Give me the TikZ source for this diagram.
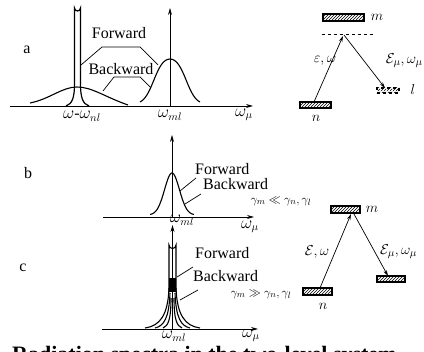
\documentclass[tikz,border=0pt]{standalone}
\usepackage{fontspec}
\setmainfont{Liberation Serif}
\usetikzlibrary{arrows.meta,patterns}
\begin{document}
\begin{tikzpicture}[x=1pt,y=-1pt,
  lbl/.style={font=\fontsize{16}{18}\selectfont, inner sep=0pt},
  sml/.style={font=\fontsize{13}{15}\selectfont, inner sep=0pt},
  enl/.style={font=\fontsize{15}{17}\selectfont, inner sep=0pt},
  axis/.style={line width=0.8pt,-{Stealth[length=7pt,width=4pt]}},
  curve/.style={line width=1.1pt},
  lead/.style={line width=0.7pt},
  lvl/.style={draw, line width=1.2pt, pattern=north east lines, inner sep=0pt, minimum height=7pt},
  tr/.style={line width=0.7pt,-{Stealth[length=6pt,width=3.5pt]}}]
\useasboundingbox (0,0) rectangle (424,352);

% ---------------- panel a ----------------
\node[lbl] (la) at (27,50) {a};
\coordinate (a0) at (10,106);
\coordinate (a1) at (253,106);
\draw[axis] (a0) -- (a1);
\coordinate (ab) at (170,106);
\coordinate (at) at (170,8);
\draw[axis] (ab) -- (at);
% broad backward curve
\draw[curve] (30,103) .. controls (50,99) and (62,87) .. (77,87) .. controls (92,87) and (105,97) .. (128,105);
% tall narrow peak
\draw[line width=1.2pt] (66,106) .. controls (72,104) and (74.5,98) .. (74.5,84) -- (74.5,8) arc (180:0:3) -- (80.5,84) .. controls (80.5,98) and (83,104) .. (89,106);
% right bell
\draw[curve] (140,102) .. controls (153,96) and (156,59) .. (170,59) .. controls (184,59) and (187,96) .. (200,102);
\node[lbl] (fa) at (119,33) {Forward};
\node[lbl] (ba) at (121,69) {Backward};
\draw[lead] (81,65) -- (102,47) -- (140,47) -- (158,65);
\draw[lead] (103,91) -- (114,77) -- (140,77) -- (151,88);
\node[lbl] (wa1) at (82,116) {$\omega$-$\omega_{nl}$};
\node[lbl] (wa2) at (170,115) {$\omega_{ml}$};
\node[lbl] (wa3) at (244,115) {$\omega_\mu$};
% levels a
\node[lvl, minimum width=41pt] (am) at (343.5,17.5) {};
\node[enl] (amt) at (377,17) {$m$};
\coordinate (av0) at (322,34);
\coordinate (av1) at (373,34);
\draw[line width=0.8pt, dashed] (av0) -- (av1);
\node[lvl, minimum width=31pt, minimum height=6pt] (an) at (315.5,105) {};
\node[enl] (ant) at (316,118) {$n$};
\node[lvl, dashed, minimum width=22pt, minimum height=5pt] (al) at (388,90.5) {};
\node[enl] (alt) at (413,90) {$l$};
\coordinate (aup0) at (314,102);
\coordinate (aup1) at (343,36);
\coordinate (adn0) at (344,35);
\coordinate (adn1) at (385,88);
\draw[tr] (aup0) -- (aup1);
\draw[tr] (adn0) -- (adn1);
\node[enl] (ae1) at (325,61) {$\varepsilon,\omega$};
\node[enl, anchor=east] (ae2) at (423,61) {$\mathcal{E}_\mu,\omega_\mu$};

% ---------------- panel b ----------------
\node[lbl] (lb) at (28,173) {b};
\coordinate (b0) at (103,217);
\coordinate (b1) at (254,217);
\draw[axis] (b0) -- (b1);
\coordinate (bb) at (172,217);
\coordinate (bt) at (172,135);
\draw[axis] (bb) -- (bt);
\draw[curve] plot[domain=150:194, samples=60, smooth] (\x, {215-42*exp(-((\x-172)/10.5)^2)});
\node[lbl, anchor=west] (fb) at (195,169) {Forward};
\node[lbl, anchor=west] (bkb) at (203,184) {Backward};
\draw[lead] (180,191) -- (196,178);
\draw[lead] (185,204) -- (201,194);
\node[lbl] (wb1) at (182,220) {$\omega_{ml}$};
\node[lbl] (wb2) at (250,227) {$\omega_\mu$};
\node[sml] (gb) at (281,201) {$\gamma_m\ll\gamma_n,\gamma_l$};

% levels c
\node[lvl, minimum width=29pt] (cm) at (345.5,209.5) {};
\node[enl] (cmt) at (372,209) {$m$};
\node[lvl, minimum width=29pt] (cn) at (317.5,291.5) {};
\node[enl] (cnt) at (323,306) {$n$};
\node[lvl, minimum width=28pt, minimum height=6pt] (cl) at (391,279) {};
\coordinate (cup0) at (320,288);
\coordinate (cup1) at (351,214);
\coordinate (cdn0) at (354,214);
\coordinate (cdn1) at (388,276);
\draw[tr] (cup0) -- (cup1);
\draw[tr] (cdn0) -- (cdn1);
\node[enl] (ce1) at (317,252) {$\mathcal{E},\omega$};
\node[enl, anchor=west] (ce2) at (380,252) {$\mathcal{E}_\mu,\omega_\mu$};
\node[sml] (gc) at (261,294) {$\gamma_m\gg\gamma_n,\gamma_l$};

% ---------------- panel c ----------------
\node[lbl] (lc) at (23,268) {c};
\coordinate (c0) at (102,329);
\coordinate (c1) at (258,329);
\draw[axis] (c0) -- (c1);
\coordinate (cb) at (172.5,329);
\coordinate (ct) at (172.5,225);
\draw[axis] (cb) -- (ct);
\fill (169,278) rectangle (176,292);
\draw[line width=1.1pt] (169,292) -- (169,245) arc (180:0:3.5) -- (176,292);
\draw[curve] (169,288) .. controls (168,315) and (160,326) .. (145,328);
\draw[curve] (170,293) .. controls (169,318) and (164,326) .. (155,328);
\draw[curve] (171,298) .. controls (171,320) and (168,326) .. (163,328);
\draw[curve] (176,288) .. controls (177,315) and (185,326) .. (200,328);
\draw[curve] (175,293) .. controls (176,318) and (181,326) .. (190,328);
\draw[curve] (174,298) .. controls (174,320) and (177,326) .. (182,328);
\node[lbl, anchor=west] (fc) at (195,253) {Forward};
\node[lbl, anchor=west] (bkc) at (193,276) {Backward};
\draw[lead] (177,277) -- (193,267);
\draw[lead] (180,300) -- (198,290);
\node[lbl] (wc1) at (174,336) {$\omega_{ml}$};
\node[lbl] (wc2) at (251,336) {$\omega_\mu$};

% caption (cut off by the page edge)
\node[font=\bfseries\fontsize{22}{24}\selectfont, anchor=base west, inner sep=0pt] (cap) at (12,362) {Radiation spectra in the two-level system};
\end{tikzpicture}
\end{document}
